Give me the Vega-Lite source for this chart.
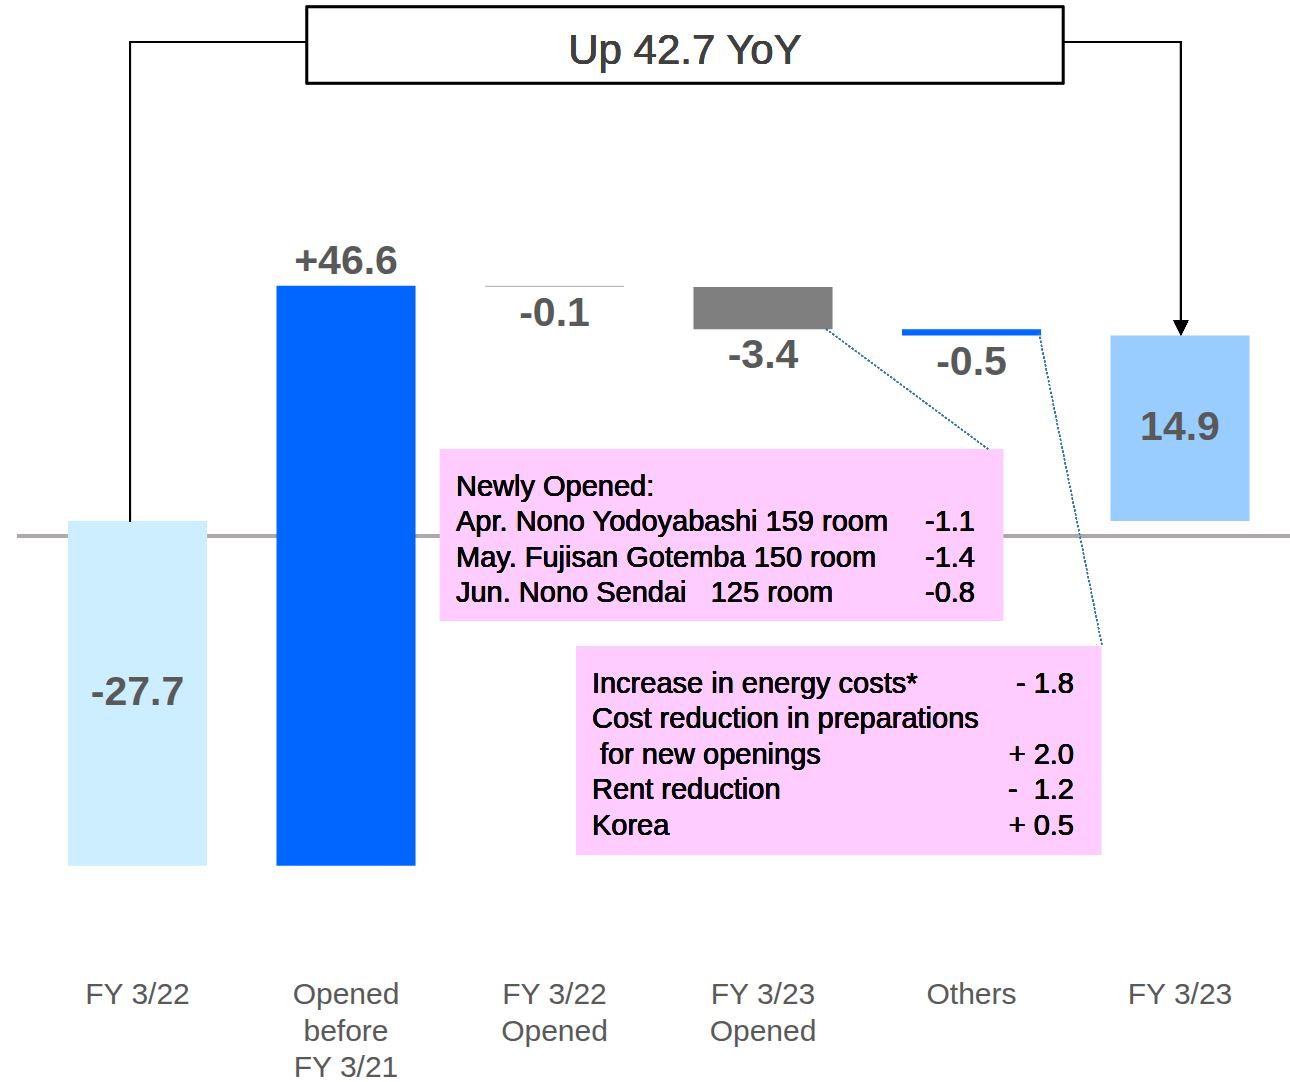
{
  "$schema": "https://vega.github.io/schema/vega-lite/v6.json",
  "width": 1290,
  "height": 1082,
  "autosize": {"type": "none"},
  "padding": 0,
  "background": "white",
  "config": {"view": {"stroke": null}, "text": {"font": "Liberation Sans"}},
  "data": {"values": [
    {"cat": "FY 3/22", "start": 0, "end": -27.7, "label": "-27.7", "kind": "total"},
    {"cat": "Opened|before|FY 3/21", "start": -27.7, "end": 18.9, "label": "+46.6", "kind": "up"},
    {"cat": "FY 3/22|Opened", "start": 18.9, "end": 18.8, "label": "-0.1", "kind": "down"},
    {"cat": "FY 3/23|Opened", "start": 18.8, "end": 15.4, "label": "-3.4", "kind": "down"},
    {"cat": "Others", "start": 15.4, "end": 14.9, "label": "-0.5", "kind": "down"},
    {"cat": "FY 3/23", "start": 0, "end": 14.9, "label": "14.9", "kind": "total"}
  ]},
  "resolve": {"scale": {"x": "independent"}},
  "layer": [
    {
      "mark": {"type": "rule", "color": "#aca8a8", "strokeWidth": 4},
      "encoding": {
        "x": {"datum": -0.58, "type": "quantitative", "scale": {"domain": [-0.662, 5.525], "nice": false, "zero": false}, "axis": null},
        "x2": {"datum": 5.525},
        "y": {"datum": -1.2, "type": "quantitative", "scale": {"domain": [-45.06, 41.85], "nice": false, "zero": false}, "axis": null}
      }
    },
    {
      "mark": {"type": "bar"},
      "encoding": {
        "x": {"field": "cat", "type": "nominal", "sort": null, "scale": {"type": "band", "domain": ["FY 3/22", "Opened|before|FY 3/21", "FY 3/22|Opened", "FY 3/23|Opened", "Others", "FY 3/23"], "paddingInner": 0.333, "paddingOuter": 0.26, "align": 0.627}, "axis": null},
        "y": {"field": "start", "type": "quantitative", "scale": {"domain": [-45.06, 41.85], "nice": false, "zero": false}, "axis": null},
        "y2": {"field": "end"},
        "color": {"field": "cat", "type": "nominal", "legend": null, "scale": {
          "domain": ["FY 3/22", "Opened|before|FY 3/21", "FY 3/22|Opened", "FY 3/23|Opened", "Others", "FY 3/23"],
          "range": ["#cceeff", "#0066ff", "#bdbdbd", "#7f7f7f", "#0066ff", "#99ccff"]}}
      }
    },
    {
      "mark": {"type": "rule", "color": "black", "strokeWidth": 2, "strokeCap": "square"},
      "encoding": {
        "x": {"datum": -0.0384, "type": "quantitative", "scale": {"domain": [-0.662, 5.525], "nice": false, "zero": false}, "axis": null},
        "y": {"datum": 0, "type": "quantitative", "scale": {"domain": [-45.06, 41.85], "nice": false, "zero": false}, "axis": null},
        "y2": {"datum": 38.47}
      }
    },
    {
      "mark": {"type": "rule", "color": "black", "strokeWidth": 2, "strokeCap": "square"},
      "encoding": {
        "x": {"datum": -0.0384, "type": "quantitative", "scale": {"domain": [-0.662, 5.525], "nice": false, "zero": false}, "axis": null},
        "x2": {"datum": 0.8106},
        "y": {"datum": 38.47, "type": "quantitative", "scale": {"domain": [-45.06, 41.85], "nice": false, "zero": false}, "axis": null}
      }
    },
    {
      "mark": {"type": "rule", "color": "black", "strokeWidth": 2, "strokeCap": "square"},
      "encoding": {
        "x": {"datum": 4.436, "type": "quantitative", "scale": {"domain": [-0.662, 5.525], "nice": false, "zero": false}, "axis": null},
        "x2": {"datum": 5.002},
        "y": {"datum": 38.47, "type": "quantitative", "scale": {"domain": [-45.06, 41.85], "nice": false, "zero": false}, "axis": null}
      }
    },
    {
      "mark": {"type": "rule", "color": "black", "strokeWidth": 2, "strokeCap": "butt"},
      "encoding": {
        "x": {"datum": 5.002, "type": "quantitative", "scale": {"domain": [-0.662, 5.525], "nice": false, "zero": false}, "axis": null},
        "y": {"datum": 38.55, "type": "quantitative", "scale": {"domain": [-45.06, 41.85], "nice": false, "zero": false}, "axis": null},
        "y2": {"datum": 15.5}
      }
    },
    {
      "mark": {"type": "point", "shape": "M-1,-2L1,-2L0,0Z", "filled": true, "color": "black", "size": 225, "opacity": 1},
      "encoding": {
        "x": {"datum": 5.002, "type": "quantitative", "scale": {"domain": [-0.662, 5.525], "nice": false, "zero": false}, "axis": null},
        "y": {"datum": 14.9, "type": "quantitative", "scale": {"domain": [-45.06, 41.85], "nice": false, "zero": false}, "axis": null}
      }
    },
    {
      "mark": {"type": "rect", "fill": "white", "stroke": "black", "strokeWidth": 2.5},
      "encoding": {
        "x": {"datum": 0.8106, "type": "quantitative", "scale": {"domain": [-0.662, 5.525], "nice": false, "zero": false}, "axis": null},
        "x2": {"datum": 4.436},
        "y": {"datum": 41.29, "type": "quantitative", "scale": {"domain": [-45.06, 41.85], "nice": false, "zero": false}, "axis": null},
        "y2": {"datum": 35.18}
      }
    },
    {
      "mark": {"type": "text", "text": "Up 42.7 YoY", "fontSize": 42, "color": "#404040", "align": "center", "baseline": "middle"},
      "encoding": {
        "x": {"datum": 2.623, "type": "quantitative", "scale": {"domain": [-0.662, 5.525], "nice": false, "zero": false}, "axis": null},
        "y": {"datum": 37.75, "type": "quantitative", "scale": {"domain": [-45.06, 41.85], "nice": false, "zero": false}, "axis": null}
      }
    },
    {
      "mark": {"type": "rect", "fill": "#ffccff"},
      "encoding": {
        "x": {"datum": 1.448, "type": "quantitative", "scale": {"domain": [-0.662, 5.525], "nice": false, "zero": false}, "axis": null},
        "x2": {"datum": 4.149},
        "y": {"datum": 5.78, "type": "quantitative", "scale": {"domain": [-45.06, 41.85], "nice": false, "zero": false}, "axis": null},
        "y2": {"datum": -8.03}
      }
    },
    {
      "mark": {"type": "rect", "fill": "#ffccff"},
      "encoding": {
        "x": {"datum": 2.101, "type": "quantitative", "scale": {"domain": [-0.662, 5.525], "nice": false, "zero": false}, "axis": null},
        "x2": {"datum": 4.619},
        "y": {"datum": -10.04, "type": "quantitative", "scale": {"domain": [-45.06, 41.85], "nice": false, "zero": false}, "axis": null},
        "y2": {"datum": -26.83}
      }
    },
    {
      "mark": {"type": "rule", "color": "#2e75b6", "strokeWidth": 1.2, "strokeDash": [2, 2]},
      "encoding": {
        "x": {"datum": 3.3, "type": "quantitative", "scale": {"domain": [-0.662, 5.525], "nice": false, "zero": false}, "axis": null},
        "x2": {"datum": 4.077},
        "y": {"datum": 15.42, "type": "quantitative", "scale": {"domain": [-45.06, 41.85], "nice": false, "zero": false}, "axis": null},
        "y2": {"datum": 5.78}
      }
    },
    {
      "mark": {"type": "rule", "color": "#2e75b6", "strokeWidth": 1.2, "strokeDash": [2, 2]},
      "encoding": {
        "x": {"datum": 4.321, "type": "quantitative", "scale": {"domain": [-0.662, 5.525], "nice": false, "zero": false}, "axis": null},
        "x2": {"datum": 4.624},
        "y": {"datum": 15.1, "type": "quantitative", "scale": {"domain": [-45.06, 41.85], "nice": false, "zero": false}, "axis": null},
        "y2": {"datum": -10.04}
      }
    },
    {
      "mark": {"type": "text", "text": "Newly Opened:|Apr. Nono Yodoyabashi 159 room|May. Fujisan Gotemba 150 room|Jun. Nono Sendai\u00a0\u00a0 125 room", "lineBreak": "|", "lineHeight": 35.3, "fontSize": 29, "color": "black", "align": "left", "baseline": "top"},
      "encoding": {
        "x": {"datum": 1.525, "type": "quantitative", "scale": {"domain": [-0.662, 5.525], "nice": false, "zero": false}, "axis": null},
        "y": {"datum": 3.86, "type": "quantitative", "scale": {"domain": [-45.06, 41.85], "nice": false, "zero": false}, "axis": null}
      }
    },
    {
      "mark": {"type": "text", "text": "-1.1|-1.4|-0.8", "lineBreak": "|", "lineHeight": 35.3, "fontSize": 29, "color": "black", "align": "right", "baseline": "top"},
      "encoding": {
        "x": {"datum": 4.014, "type": "quantitative", "scale": {"domain": [-0.662, 5.525], "nice": false, "zero": false}, "axis": null},
        "y": {"datum": 1.025, "type": "quantitative", "scale": {"domain": [-45.06, 41.85], "nice": false, "zero": false}, "axis": null}
      }
    },
    {
      "mark": {"type": "text", "text": "Increase in energy costs*|Cost reduction in preparations", "lineBreak": "|", "lineHeight": 35.4, "fontSize": 29, "color": "black", "align": "left", "baseline": "top"},
      "encoding": {
        "x": {"datum": 2.177, "type": "quantitative", "scale": {"domain": [-0.662, 5.525], "nice": false, "zero": false}, "axis": null},
        "y": {"datum": -11.96, "type": "quantitative", "scale": {"domain": [-45.06, 41.85], "nice": false, "zero": false}, "axis": null}
      }
    },
    {
      "mark": {"type": "text", "text": "for new openings", "fontSize": 29, "color": "black", "align": "left", "baseline": "top", "dx": 8},
      "encoding": {
        "x": {"datum": 2.177, "type": "quantitative", "scale": {"domain": [-0.662, 5.525], "nice": false, "zero": false}, "axis": null},
        "y": {"datum": -17.647, "type": "quantitative", "scale": {"domain": [-45.06, 41.85], "nice": false, "zero": false}, "axis": null}
      }
    },
    {
      "mark": {"type": "text", "text": "Rent reduction|Korea", "lineBreak": "|", "lineHeight": 35.4, "fontSize": 29, "color": "black", "align": "left", "baseline": "top"},
      "encoding": {
        "x": {"datum": 2.177, "type": "quantitative", "scale": {"domain": [-0.662, 5.525], "nice": false, "zero": false}, "axis": null},
        "y": {"datum": -20.49, "type": "quantitative", "scale": {"domain": [-45.06, 41.85], "nice": false, "zero": false}, "axis": null}
      }
    },
    {
      "mark": {"type": "text", "text": "- 1.8", "fontSize": 29, "color": "black", "align": "right", "baseline": "top"},
      "encoding": {
        "x": {"datum": 4.489, "type": "quantitative", "scale": {"domain": [-0.662, 5.525], "nice": false, "zero": false}, "axis": null},
        "y": {"datum": -11.96, "type": "quantitative", "scale": {"domain": [-45.06, 41.85], "nice": false, "zero": false}, "axis": null}
      }
    },
    {
      "mark": {"type": "text", "text": "+ 2.0|-\u00a0 1.2|+ 0.5", "lineBreak": "|", "lineHeight": 35.4, "fontSize": 29, "color": "black", "align": "right", "baseline": "top"},
      "encoding": {
        "x": {"datum": 4.489, "type": "quantitative", "scale": {"domain": [-0.662, 5.525], "nice": false, "zero": false}, "axis": null},
        "y": {"datum": -17.647, "type": "quantitative", "scale": {"domain": [-45.06, 41.85], "nice": false, "zero": false}, "axis": null}
      }
    },
    {
      "transform": [{"filter": "datum.kind === 'total'"}, {"calculate": "(datum.start + datum.end) / 2", "as": "mid"}],
      "mark": {"type": "text", "fontSize": 41, "fontWeight": "bold", "color": "#595959", "align": "center", "baseline": "middle"},
      "encoding": {
        "x": {"field": "cat", "type": "nominal", "sort": null, "scale": {"type": "band", "domain": ["FY 3/22", "Opened|before|FY 3/21", "FY 3/22|Opened", "FY 3/23|Opened", "Others", "FY 3/23"], "paddingInner": 0.333, "paddingOuter": 0.26, "align": 0.627}, "axis": null},
        "y": {"field": "mid", "type": "quantitative", "scale": {"domain": [-45.06, 41.85], "nice": false, "zero": false}, "axis": null},
        "text": {"field": "label"}
      }
    },
    {
      "transform": [{"filter": "datum.kind === 'up'"}],
      "mark": {"type": "text", "fontSize": 41, "fontWeight": "bold", "color": "#595959", "align": "center", "baseline": "middle", "dy": -24},
      "encoding": {
        "x": {"field": "cat", "type": "nominal", "sort": null, "scale": {"type": "band", "domain": ["FY 3/22", "Opened|before|FY 3/21", "FY 3/22|Opened", "FY 3/23|Opened", "Others", "FY 3/23"], "paddingInner": 0.333, "paddingOuter": 0.26, "align": 0.627}, "axis": null},
        "y": {"field": "end", "type": "quantitative", "scale": {"domain": [-45.06, 41.85], "nice": false, "zero": false}, "axis": null},
        "text": {"field": "label"}
      }
    },
    {
      "transform": [{"filter": "datum.kind === 'down'"}],
      "mark": {"type": "text", "fontSize": 41, "fontWeight": "bold", "color": "#595959", "align": "center", "baseline": "middle", "dy": 27},
      "encoding": {
        "x": {"field": "cat", "type": "nominal", "sort": null, "scale": {"type": "band", "domain": ["FY 3/22", "Opened|before|FY 3/21", "FY 3/22|Opened", "FY 3/23|Opened", "Others", "FY 3/23"], "paddingInner": 0.333, "paddingOuter": 0.26, "align": 0.627}, "axis": null},
        "y": {"field": "end", "type": "quantitative", "scale": {"domain": [-45.06, 41.85], "nice": false, "zero": false}, "axis": null},
        "text": {"field": "label"}
      }
    },
    {
      "mark": {"type": "text", "fontSize": 30, "color": "#595959", "align": "center", "baseline": "top", "lineBreak": "|", "lineHeight": 36.5},
      "encoding": {
        "x": {"field": "cat", "type": "nominal", "sort": null, "scale": {"type": "band", "domain": ["FY 3/22", "Opened|before|FY 3/21", "FY 3/22|Opened", "FY 3/23|Opened", "Others", "FY 3/23"], "paddingInner": 0.333, "paddingOuter": 0.26, "align": 0.627}, "axis": null},
        "y": {"datum": -36.9, "type": "quantitative", "scale": {"domain": [-45.06, 41.85], "nice": false, "zero": false}, "axis": null},
        "text": {"field": "cat"}
      }
    }
  ]
}
